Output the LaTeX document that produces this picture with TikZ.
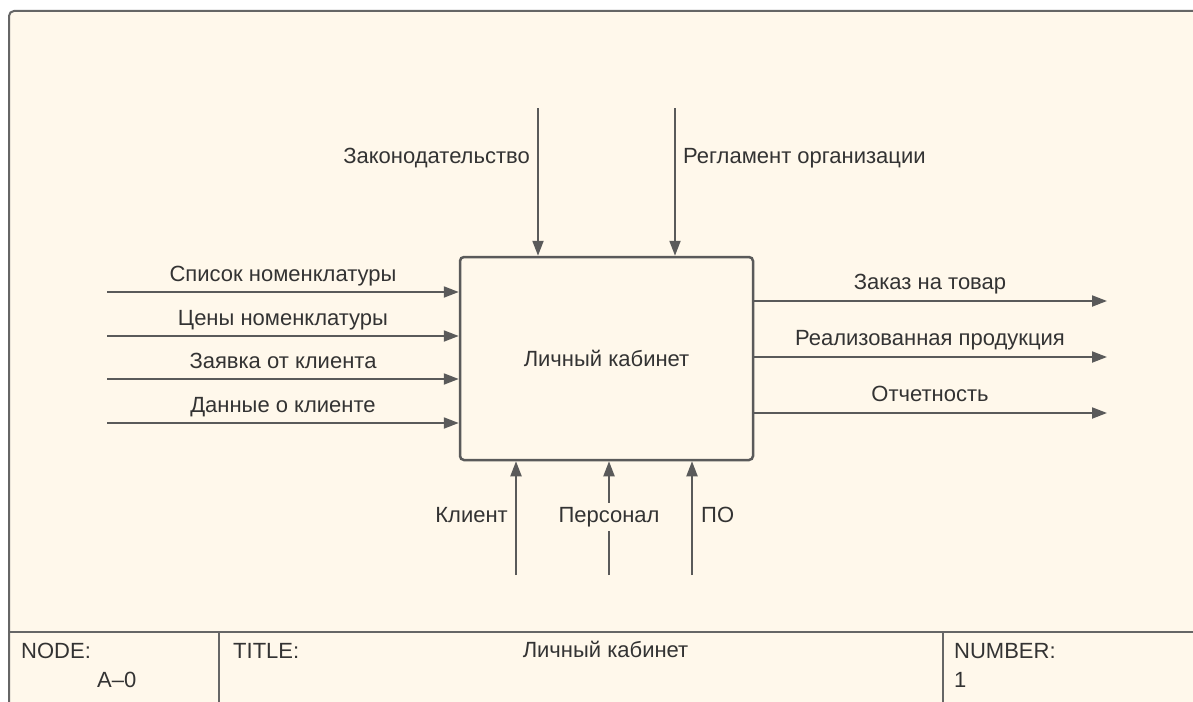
\documentclass[tikz,border=0pt]{standalone}
\usepackage{fontspec}
\setmainfont{Liberation Sans}
\usetikzlibrary{arrows.meta}
\definecolor{paper}{HTML}{FFF8EB}
\definecolor{ink}{HTML}{5A5A5A}
\definecolor{rule}{HTML}{666666}
\definecolor{txt}{HTML}{333333}
\begin{document}
\begin{tikzpicture}[x=1pt,y=-1pt]
            \tikzstyle{every node}=[font=\fontsize{22}{26}\selectfont, text=txt, inner sep=0pt]
            \tikzstyle{flow}=[draw=ink, line width=2pt, -{Triangle[length=15pt,width=11pt]}]
            \tikzstyle{frame}=[draw=rule, line width=2pt]
            \clip (0,0) rectangle (1193,701);
            \fill [white] (0,0) rectangle (1193,701);
            % form frame and title strip
            \draw [frame, fill=paper, rounded corners=5pt] (9,11) rectangle (1215,725);
            \draw [frame] (9,632) -- (1215,632);
            \draw [frame] (219,632) -- (219,725);
            \draw [frame] (943,632) -- (943,725);
            % activity
            \node [draw=ink, line width=2.5pt, rounded corners=4pt, minimum width=293pt, minimum height=203pt] (box) at (606.5,358.5) {Личный кабинет};
            % inputs
            \foreach \y/\txt [count=\i] in {292/Список номенклатуры, 336/Цены номенклатуры, 379/Заявка от клиента, 423/Данные о клиенте} {
              \coordinate (in\i) at (107,\y);
              \draw [flow] (in\i) -- (box.west |- in\i);
              \node [anchor=base] (inlbl\i) at (283,\y-11) {\txt};
            }
            % outputs
            \foreach \y/\txt [count=\i] in {301/Заказ на товар, 357/Реализованная продукция, 413/Отчетность} {
              \coordinate (out\i) at (1107,\y);
              \draw [flow] (box.east |- out\i) -- (out\i);
              \node [anchor=base] (outlbl\i) at (930,\y-12) {\txt};
            }
            % controls
            \coordinate (ctl1) at (538,108);
            \coordinate (ctl2) at (675,108);
            \draw [flow] (ctl1) -- (ctl1 |- box.north);
            \draw [flow] (ctl2) -- (ctl2 |- box.north);
            \node [anchor=base east] (ctllbl1) at (530,163) {Законодательство};
            \node [anchor=base west] (ctllbl2) at (683,163) {Регламент организации};
            % mechanisms
            \coordinate (mech1) at (516,575);
            \coordinate (mech2) at (609,575);
            \coordinate (mech3) at (692,575);
            \draw [flow] (mech1) -- (mech1 |- box.south);
            \draw [flow] (mech2) -- (mech2 |- box.south);
            \draw [flow] (mech3) -- (mech3 |- box.south);
            \node [anchor=base east] (mechlbl1) at (508,522) {Клиент};
            \node [anchor=base, fill=paper, inner ysep=4pt, inner xsep=2pt] (mechlbl2) at (609,522) {Персонал};
            \node [anchor=base west] (mechlbl3) at (701,522) {ПО};
            % title strip texts
            \node [anchor=base west] (nodelbl) at (21,658) {NODE:};
            \node [anchor=base west] (nodeval) at (97,687) {A--0};
            \node [anchor=base west] (titlelbl) at (233,658) {TITLE:};
            \node [anchor=base] (titleval) at (605.5,657) {Личный кабинет};
            \node [anchor=base west] (numlbl) at (954,658) {NUMBER:};
            \node [anchor=base west] (numval) at (954,687) {1};
\end{tikzpicture}
\end{document}
